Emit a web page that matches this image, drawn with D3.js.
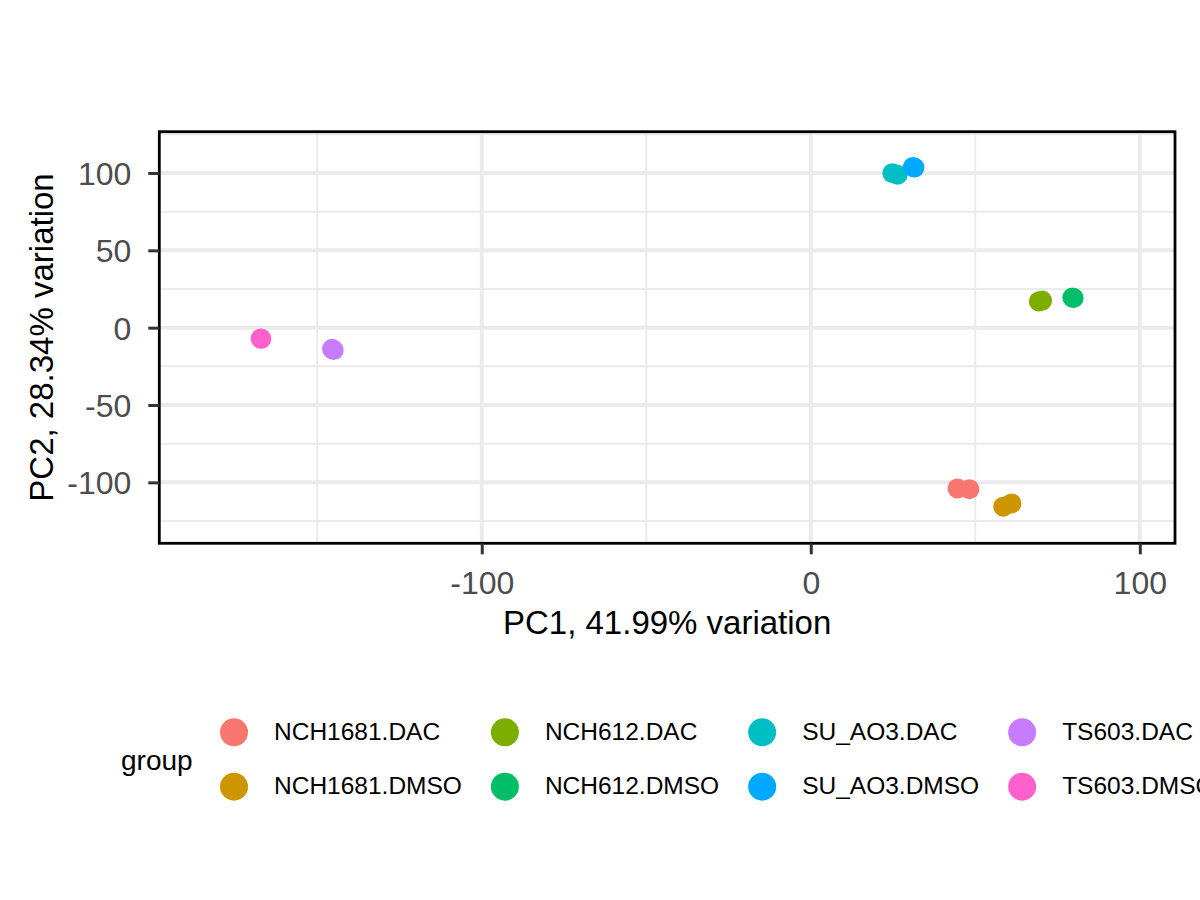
<!DOCTYPE html>
<html>
<head>
<meta charset="utf-8">
<script src="https://cdn.jsdelivr.net/npm/d3@7"></script>
<style>
  html, body { margin: 0; padding: 0; background: #fff; }
  svg { display: block; }
  text { font-family: "Liberation Sans", Arial, Helvetica, sans-serif; }
</style>
</head>
<body>
<svg id="chart" width="1200" height="900"></svg>
<script>
// ---- data ----
const groups = ["NCH1681.DAC", "NCH1681.DMSO", "NCH612.DAC", "NCH612.DMSO",
                "SU_AO3.DAC", "SU_AO3.DMSO", "TS603.DAC", "TS603.DMSO"];
const groupColors = ["#F8766D", "#CD9600", "#7CAE00", "#00BE67",
                     "#00BFC4", "#00A9FF", "#C77CFF", "#FF61CC"];
const sampleGroup = ["NCH1681.DAC", "NCH1681.DAC", "NCH1681.DMSO", "NCH1681.DMSO",
                     "NCH612.DAC", "NCH612.DAC", "NCH612.DMSO", "NCH612.DMSO",
                     "SU_AO3.DAC", "SU_AO3.DAC", "SU_AO3.DMSO", "SU_AO3.DMSO",
                     "TS603.DAC", "TS603.DAC", "TS603.DMSO", "TS603.DMSO"];
const pc1 = [44.6, 48.2, 58.5, 61.0,
             69.3, 70.3, 79.5, 79.9,
             24.8, 26.4, 31.0, 31.5,
             -145.5, -145.0, -167.2, -167.0];
const pc2 = [-103.9, -104.4, -115.7, -113.6,
             17.0, 17.5, 19.5, 19.2,
             99.9, 98.9, 103.9, 103.5,
             -13.7, -14.5, -7.0, -7.2];
const xTicks = [-100, 0, 100];
const yTicks = [-100, -50, 0, 50, 100];
const xMinor = [-150, -50, 50];
const yMinor = [-125, -75, -25, 25, 75, 125];
const xLabel = "PC1, 41.99% variation";
const yLabel = "PC2, 28.34% variation";
const legendTitle = "group";

// ---- layout ----
const svg = d3.select("#chart");
const panel = { left: 159.3, right: 1175, top: 131.7, bottom: 543.3 };
const x = d3.scaleLinear().domain([-198.0, 110.7]).range([panel.left, panel.right]);
const y = d3.scaleLinear().domain([-139.4, 126.7]).range([panel.bottom, panel.top]);
const color = d3.scaleOrdinal().domain(groups).range(groupColors);
const fmt = d => String(d);

const gridColor = "#EBEBEB";
const g = svg.append("g");

// minor grid
g.selectAll(".xminor").data(xMinor).join("line")
  .attr("x1", d => x(d)).attr("x2", d => x(d))
  .attr("y1", panel.top).attr("y2", panel.bottom)
  .attr("stroke", gridColor).attr("stroke-width", 2);
g.selectAll(".yminor").data(yMinor.filter(v => v > y.domain()[0] && v < y.domain()[1])).join("line")
  .attr("y1", d => y(d)).attr("y2", d => y(d))
  .attr("x1", panel.left).attr("x2", panel.right)
  .attr("stroke", gridColor).attr("stroke-width", 2);
// major grid
g.append("g").selectAll("line").data(xTicks).join("line")
  .attr("x1", d => x(d)).attr("x2", d => x(d))
  .attr("y1", panel.top).attr("y2", panel.bottom)
  .attr("stroke", gridColor).attr("stroke-width", 4);
g.append("g").selectAll("line").data(yTicks).join("line")
  .attr("y1", d => y(d)).attr("y2", d => y(d))
  .attr("x1", panel.left).attr("x2", panel.right)
  .attr("stroke", gridColor).attr("stroke-width", 4);

// points
const pts = pc1.map((v, i) => ({ x: v, y: pc2[i], group: sampleGroup[i] }));
g.append("g").selectAll("circle").data(pts).join("circle")
  .attr("cx", d => x(d.x)).attr("cy", d => y(d.y)).attr("r", 10)
  .attr("fill", d => color(d.group));

// panel border
g.append("rect")
  .attr("x", panel.left).attr("y", panel.top)
  .attr("width", panel.right - panel.left).attr("height", panel.bottom - panel.top)
  .attr("fill", "none").attr("stroke", "#000").attr("stroke-width", 2.8);

// axes
const xAxis = d3.axisBottom(x).tickValues(xTicks).tickSize(11).tickPadding(8).tickFormat(fmt);
const xg = svg.append("g").attr("transform", `translate(0,${panel.bottom})`).call(xAxis);
xg.select(".domain").remove();
xg.selectAll(".tick line").attr("stroke", "#333333").attr("stroke-width", 3);
xg.selectAll(".tick text").attr("fill", "#4D4D4D").attr("font-size", 32)
  .attr("font-family", "Liberation Sans, Arial, sans-serif")
  .attr("dy", null).attr("y", 50.5);

const yAxis = d3.axisLeft(y).tickValues(yTicks).tickSize(11).tickPadding(17).tickFormat(fmt);
const yg = svg.append("g").attr("transform", `translate(${panel.left},0)`).call(yAxis);
yg.select(".domain").remove();
yg.selectAll(".tick line").attr("stroke", "#333333").attr("stroke-width", 3);
yg.selectAll(".tick text").attr("fill", "#4D4D4D").attr("font-size", 32)
  .attr("font-family", "Liberation Sans, Arial, sans-serif")
  .attr("dy", "0.36em");

// axis titles
svg.append("text")
  .attr("x", (panel.left + panel.right) / 2).attr("y", 633.5)
  .attr("text-anchor", "middle").attr("font-size", 33).attr("fill", "#000")
  .text(xLabel);
svg.append("text")
  .attr("transform", `translate(53,${(panel.top + panel.bottom) / 2}) rotate(-90)`)
  .attr("text-anchor", "middle").attr("font-size", 33).attr("fill", "#000")
  .text(yLabel);

// legend
const lg = svg.append("g");
lg.append("text").attr("x", 121).attr("y", 770)
  .attr("font-size", 28).attr("fill", "#000").text(legendTitle);

const nrow = 2;
const rowBase = [740, 794.3];
const rowDot = [732.3, 786.7];
let textStart = 274;
const ncol = Math.ceil(groups.length / nrow);
for (let c = 0; c < ncol; c++) {
  let maxW = 0;
  for (let r = 0; r < nrow; r++) {
    const idx = c * nrow + r;
    if (idx >= groups.length) continue;
    lg.append("circle").attr("cx", textStart - 40).attr("cy", rowDot[r]).attr("r", 14)
      .attr("fill", color(groups[idx]));
    const t = lg.append("text").attr("x", textStart).attr("y", rowBase[r])
      .attr("font-size", 24.5).attr("fill", "#000").text(groups[idx]);
    maxW = Math.max(maxW, t.node().getComputedTextLength());
  }
  textStart += maxW + 83;
}
</script>
</body>
</html>
